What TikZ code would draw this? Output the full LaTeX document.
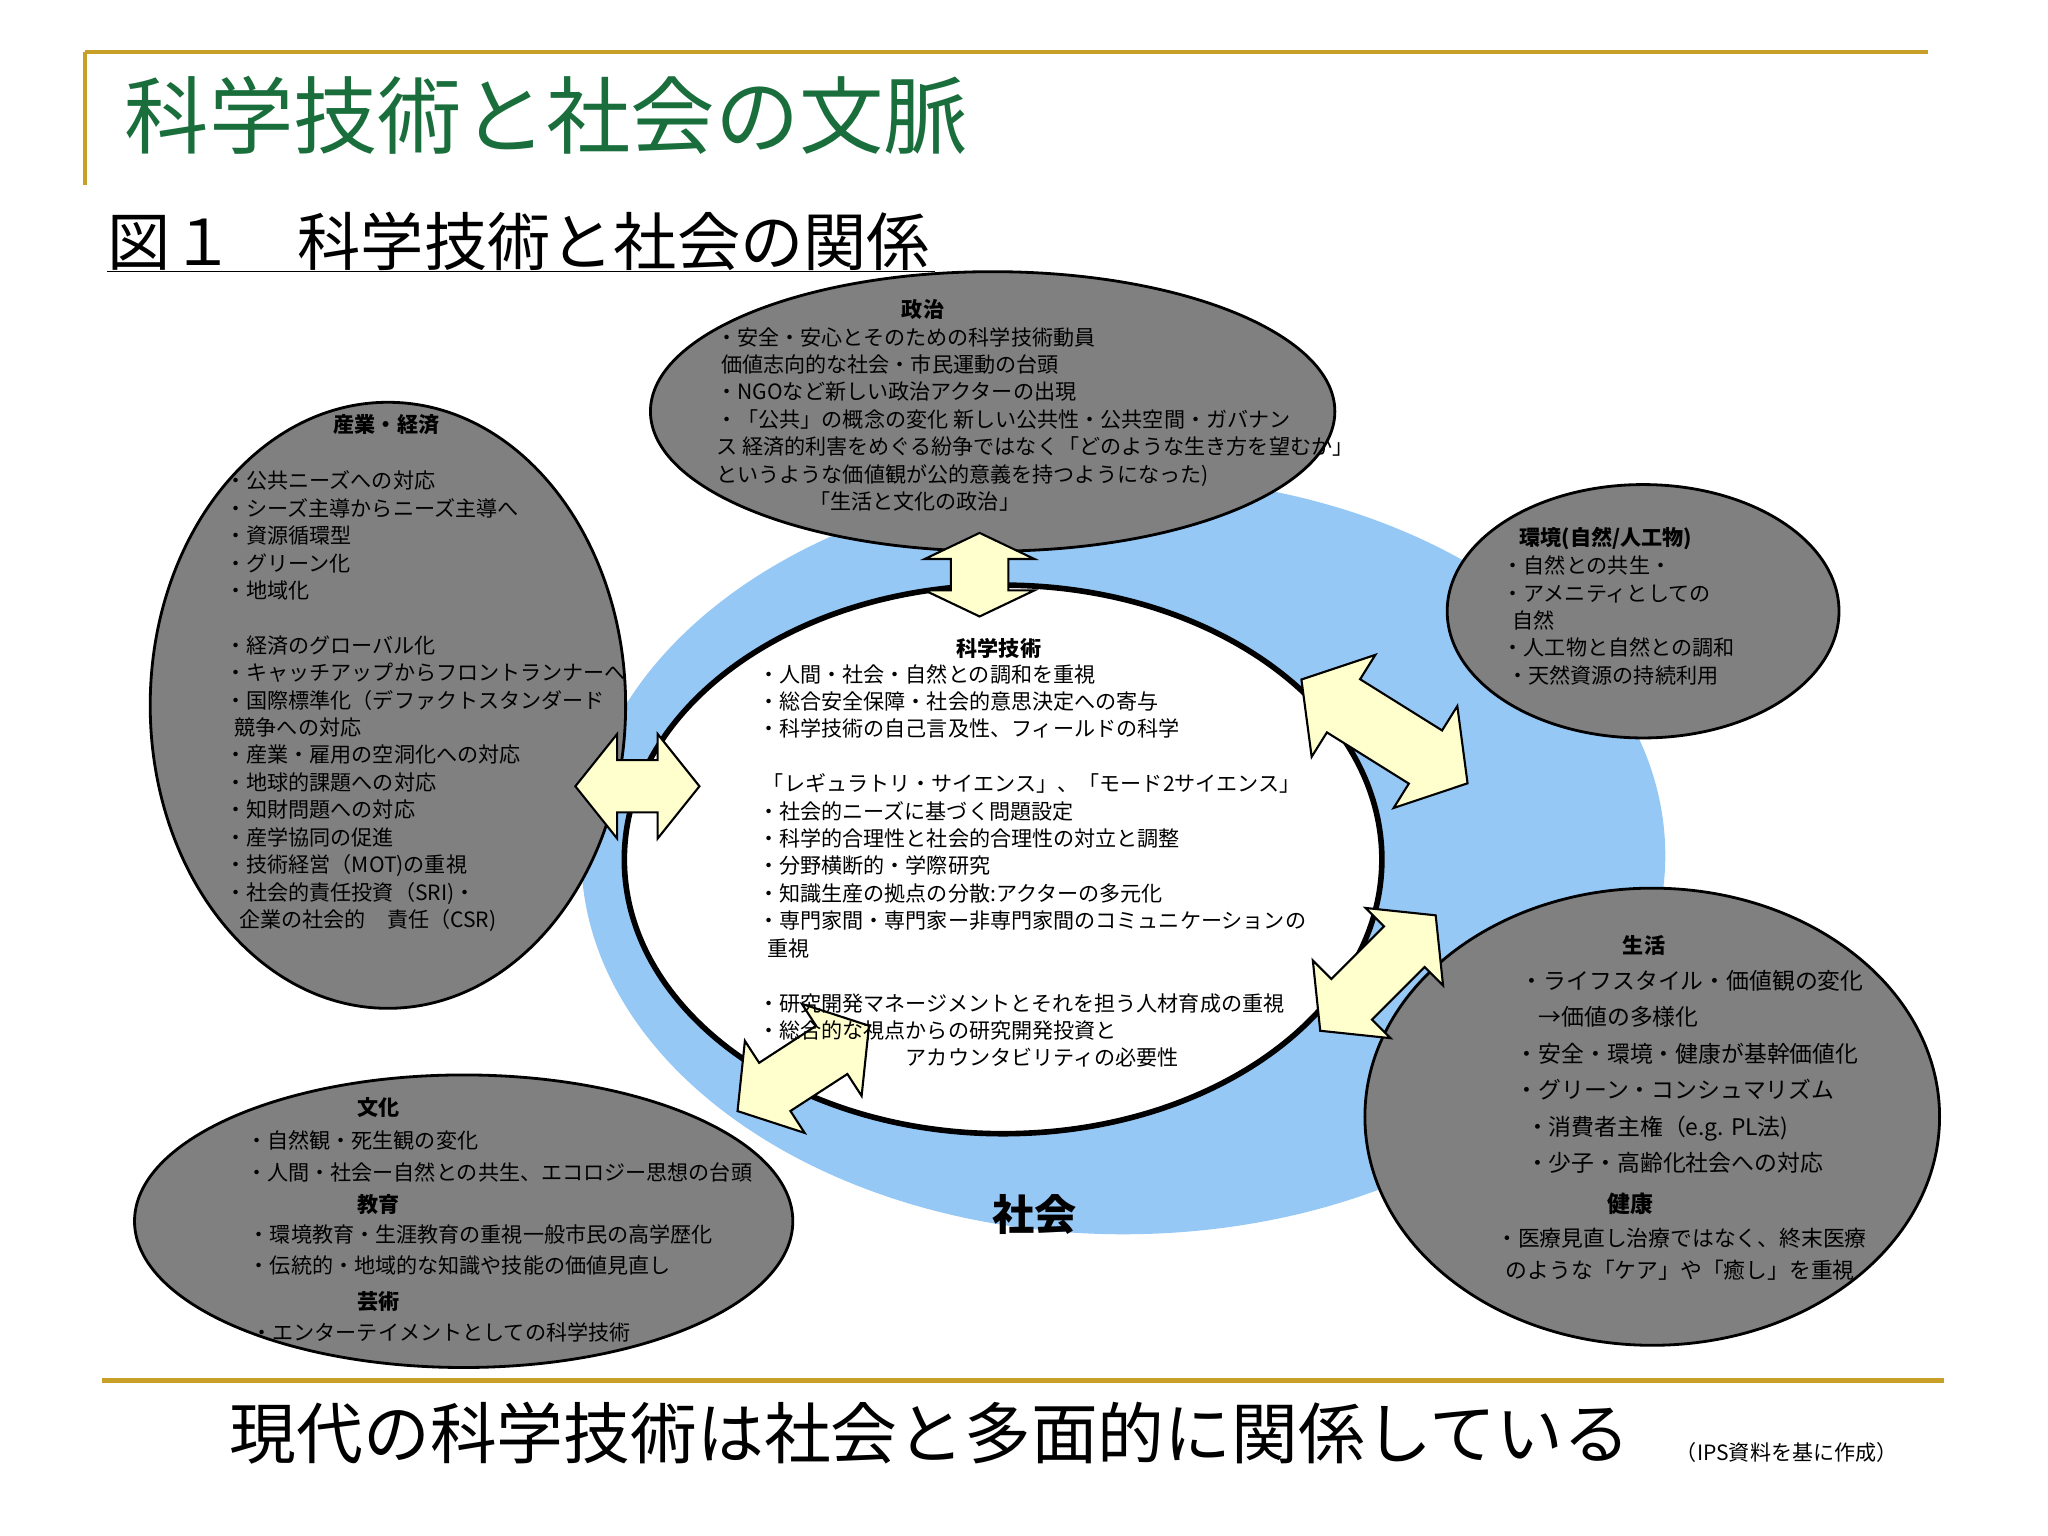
\documentclass[tikz,border=0pt]{standalone}
\usepackage{fontspec}
\setmainfont{Noto Sans CJK JP}
\definecolor{gold}{RGB}{200,160,40}
\definecolor{ttl}{RGB}{25,110,60}
\definecolor{sky}{RGB}{150,200,245}
\definecolor{gr}{RGB}{128,128,128}
\definecolor{ylw}{RGB}{255,255,205}
\tikzset{
 txt/.style={font=\fontsize{6}{7.8}\selectfont,align=left,anchor=north west,inner sep=0pt},
 txtb/.style={font=\fontsize{6.5}{10.4}\selectfont,align=left,anchor=north west,inner sep=0pt},
 blob/.style={fill=gr,draw=black,line width=0.8pt},
 arr/.style={draw=black,fill=ylw,line width=0.6pt,line join=miter}
}
% #1 x, #2 y, #3 angle, #4 total length, #5 head half width, #6 shaft half width, #7 head length
\newcommand{\dblarr}[7]{%
 \begin{scope}[shift={(#1,#2)},rotate=#3]
 \draw[arr] ({-#4/2},0) -- ({-#4/2+#7},{-#5}) -- ({-#4/2+#7},{-#6}) -- ({#4/2-#7},{-#6}) -- ({#4/2-#7},{-#5}) -- ({#4/2},0) -- ({#4/2-#7},{#5}) -- ({#4/2-#7},{#6}) -- ({-#4/2+#7},{#6}) -- ({-#4/2+#7},{#5}) -- cycle;
 \end{scope}}
\begin{document}
\begin{tikzpicture}[x=0.013061cm,y=-0.013061cm]
\useasboundingbox (0,0) rectangle (1568,1176);
\draw[gold,line width=1.2pt] (65,40) -- (1476,40);
\draw[gold,line width=1.2pt] (65,40) -- (65,142);
\node[anchor=west,text=ttl,font=\fontsize{24}{26}\selectfont,inner sep=0] (t) at (95,88) {科学技術と社会の文脈};
\node[anchor=west,font=\fontsize{18}{20}\selectfont,inner sep=0] (st) at (82,185) {図１\quad 科学技術と社会の関係};
\draw (82,208) -- (716,208);
% ring
\fill[sky] (860,655) ellipse [x radius=415,y radius=290];
\draw[fill=white,line width=1.6pt] (768,658) ellipse [x radius=290,y radius=210];
% blobs
\draw[blob] (760,315) ellipse [x radius=262,y radius=107];
\draw[blob] (297,540) ellipse [x radius=182,y radius=232];
\draw[blob] (1258,468) ellipse [x radius=150,y radius=97];
\draw[blob] (1265,855) ellipse [x radius=220,y radius=175];
\draw[blob] (355,935) ellipse [x radius=252,y radius=112];
% arrows
\dblarr{750}{440}{90}{64}{42}{22}{20}
\dblarr{488}{602}{0}{95}{40}{20}{32}
\dblarr{1060}{560}{-32}{150}{46}{24}{38}
\dblarr{1055}{745}{45}{125}{42}{22}{34}
\dblarr{615}{818}{33}{120}{42}{22}{34}
% texts
\node[txt,font=\fontsize{6}{7.8}\selectfont\bfseries] (h1) at (690,229) {政治};
\node[txt] (p1) at (548,250) {・安全・安心とそのための科学技術動員\\\ 価値志向的な社会・市民運動の台頭\\・NGOなど新しい政治アクターの出現\\ ・「公共」の概念の変化\ 新しい公共性・公共空間・ガバナン\\ス\ 経済的利害をめぐる紛争ではなく「どのような生き方を望むか」\\というような価値観が公的意義を持つようになった)\\\hspace{4.4em}「生活と文化の政治」};
\node[txt,font=\fontsize{6}{7.8}\selectfont\bfseries] (h2) at (255,317) {産業・経済};
\node[txt] (p2) at (172,360) {・公共ニーズへの対応\\ ・シーズ主導からニーズ主導へ\\・資源循環型\\・グリーン化\\・地域化\\[7.8pt]・経済のグローバル化\\・キャッチアップからフロントランナーへ\\・国際標準化（デファクトスタンダード\\\ \ 競争への対応\\・産業・雇用の空洞化への対応\\・地球的課題への対応\\・知財問題への対応\\・産学協同の促進\\・技術経営（MOT)の重視\\・社会的責任投資（SRI)・\\\ \ \ 企業の社会的\quad 責任（CSR)};
\node[txt,font=\fontsize{6}{7.8}\selectfont\bfseries] (h3) at (1163,403) {環境(自然/人工物)};
\node[txt] (p3) at (1150,425) {・自然との共生・\\・アメニティとしての\\\ \ 自然\\・人工物と自然との調和\\\ ・天然資源の持続利用};
\node[txt,font=\fontsize{6}{7.8}\selectfont\bfseries] (h4) at (732,488) {科学技術};
\node[txt] (p4) at (580,508) {・人間・社会・自然との調和を重視\\・総合安全保障・社会的意思決定への寄与\\・科学技術の自己言及性、フィールドの科学\\[7.8pt]\ 「レギュラトリ・サイエンス」、「モード2サイエンス」\\・社会的ニーズに基づく問題設定\\・科学的合理性と社会的合理性の対立と調整\\・分野横断的・学際研究\\・知識生産の拠点の分散:アクターの多元化\\・専門家間・専門家ー非専門家間のコミュニケーションの\\\ \ 重視\\[7.8pt]・研究開発マネージメントとそれを担う人材育成の重視\\・総合的な視点からの研究開発投資と\\\hspace{7em}アカウンタビリティの必要性};
\node[txt,font=\fontsize{6}{7.8}\selectfont\bfseries] (h5) at (1242,716) {生活};
\node[txtb] (p5) at (1160,742) {\ ・ライフスタイル・価値観の変化\\\quad →価値の多様化\\・安全・環境・健康が基幹価値化\\・グリーン・コンシュマリズム\\\ \ ・消費者主権（e.g. PL法)\\\ \ ・少子・高齢化社会への対応};
\node[txt,font=\fontsize{6.5}{7.8}\selectfont\bfseries] (h6) at (1230,913) {健康};
\node[txt,font=\fontsize{6.2}{9}\selectfont] (p6) at (1145,940) {・医療見直し治療ではなく、終末医療\\\ \ のような「ケア」や「癒し」を重視};
\node[txt,font=\fontsize{6}{7.8}\selectfont\bfseries] (h7) at (273,840) {文化};
\node[txt,font=\fontsize{6}{9}\selectfont] (p7) at (188,865) {・自然観・死生観の変化\\・人間・社会ー自然との共生、エコロジー思想の台頭};
\node[txt,font=\fontsize{6}{7.8}\selectfont\bfseries] (h8) at (273,914) {教育};
\node[txt,font=\fontsize{6}{9}\selectfont] (p8) at (190,937) {・環境教育・生涯教育の重視一般市民の高学歴化\\・伝統的・地域的な知識や技能の価値見直し};
\node[txt,font=\fontsize{6}{7.8}\selectfont\bfseries] (h9) at (273,988) {芸術};
\node[txt] (p9) at (192,1012) {・エンターテイメントとしての科学技術};
\node[font=\fontsize{12}{14}\selectfont\bfseries,inner sep=0] (s) at (792,930) {社会};
\draw[gold,line width=1.2pt] (78,1057) -- (1488,1057);
\node[font=\fontsize{19}{21}\selectfont,inner sep=0] (b) at (712,1097) {現代の科学技術は社会と多面的に関係している};
\node[font=\fontsize{6}{7}\selectfont,inner sep=0] (c) at (1368,1112) {（IPS資料を基に作成）};
\end{tikzpicture}
\end{document}
